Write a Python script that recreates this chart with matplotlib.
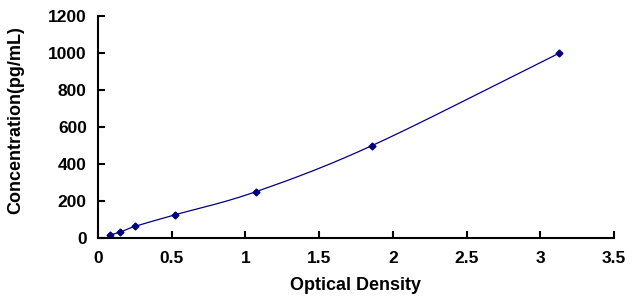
import numpy as np
import matplotlib
matplotlib.use("Agg")
import matplotlib.pyplot as plt

od = [0.08, 0.15, 0.25, 0.52, 1.07, 1.86, 3.13]
conc = [15.6, 31.2, 62.5, 125, 250, 500, 1000]

plt.rcParams['font.family'] = ['Liberation Sans', 'DejaVu Sans']

def catmull(x, y, n=30):
    x = np.asarray(x, float); y = np.asarray(y, float)
    px = np.concatenate([[2*x[0]-x[1]], x, [2*x[-1]-x[-2]]])
    py = np.concatenate([[2*y[0]-y[1]], y, [2*y[-1]-y[-2]]])
    xs, ys = [], []
    t = np.linspace(0, 1, n)
    for i in range(1, len(px)-2):
        p0, p1, p2, p3 = [np.array([px[j], py[j]]) for j in (i-1, i, i+1, i+2)]
        for tt in t:
            pt = 0.5*((2*p1) + (-p0+p2)*tt + (2*p0-5*p1+4*p2-p3)*tt**2 + (-p0+3*p1-3*p2+p3)*tt**3)
            xs.append(pt[0]); ys.append(pt[1])
    return xs, ys

fig = plt.figure(figsize=(6.32, 3.03), dpi=100)
ax = fig.add_axes([0.155, 0.2145, 0.8165, 0.7325])
sx, sy = catmull(od, conc)
ax.plot(sx, sy, color='#000080', lw=0.9)
ax.plot(od, conc, linestyle='none', marker='D', ms=3.5, color='#000080')
ax.set_xlim(0, 3.5)
ax.set_ylim(0, 1200)
ax.set_xticks([0, 0.5, 1, 1.5, 2, 2.5, 3, 3.5])
ax.set_xticklabels(['0', '0.5', '1', '1.5', '2', '2.5', '3', '3.5'])
ax.set_yticks(range(0, 1201, 200))
for s in ['top', 'right']:
    ax.spines[s].set_visible(False)
for s in ['left', 'bottom']:
    ax.spines[s].set_linewidth(1.5)
ax.tick_params(direction='in', length=5, width=1.5, labelsize=12.5)
for lab in ax.get_xticklabels() + ax.get_yticklabels():
    lab.set_fontweight('bold')
ax.tick_params(axis='x', pad=9)
ax.tick_params(axis='y', pad=8)
fig.text(356/632, 1-286/303, 'Optical Density', fontsize=13, fontweight='bold',
         ha='center', va='center')
fig.text(16/632, 1-120/303, 'Concentration(pg/mL)', fontsize=13, fontweight='bold',
         ha='center', va='center', rotation=90)
fig.savefig('out.png', dpi=100)
